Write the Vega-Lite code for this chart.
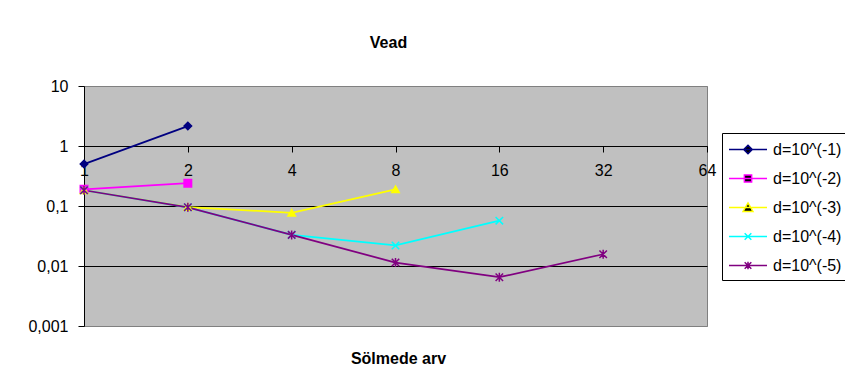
{
  "$schema": "https://vega.github.io/schema/vega-lite/v6.json",
  "width": 623,
  "height": 240,
  "autosize": {"type": "none"},
  "padding": {"left": 84, "top": 86, "right": 138, "bottom": 59},
  "background": "white",
  "title": {
    "text": "Vead",
    "frame": "group",
    "anchor": "middle",
    "offset": 14,
    "baseline": "alphabetic",
    "dx": -7,
    "font": "Liberation Sans",
    "fontSize": 16,
    "fontWeight": "bold",
    "color": "black"
  },
  "config": {
    "font": "Liberation Sans",
    "view": {"fill": "#C0C0C0", "stroke": "#808080", "strokeWidth": 1},
    "legend": {
      "orient": "none",
      "legendX": 638,
      "legendY": 47,
      "title": null,
      "strokeColor": "black",
      "fillColor": "white",
      "padding": 6,
      "rowPadding": 10,
      "labelFont": "Liberation Sans",
      "labelFontSize": 16,
      "labelColor": "black",
      "labelOffset": 24,
      "labelLimit": 300,
      "symbolSize": 361,
      "symbolStrokeWidth": 1.5
    }
  },
  "data": {
    "values": [
      {"s": "d=10^(-1)", "n": 1, "v": 0.5},
      {"s": "d=10^(-1)", "n": 2, "v": 2.15},
      {"s": "d=10^(-2)", "n": 1, "v": 0.19},
      {"s": "d=10^(-2)", "n": 2, "v": 0.24},
      {"s": "d=10^(-3)", "n": 1, "v": 0.183},
      {"s": "d=10^(-3)", "n": 2, "v": 0.096},
      {"s": "d=10^(-3)", "n": 4, "v": 0.077},
      {"s": "d=10^(-3)", "n": 8, "v": 0.19},
      {"s": "d=10^(-4)", "n": 1, "v": 0.183},
      {"s": "d=10^(-4)", "n": 2, "v": 0.095},
      {"s": "d=10^(-4)", "n": 4, "v": 0.033},
      {"s": "d=10^(-4)", "n": 8, "v": 0.022},
      {"s": "d=10^(-4)", "n": 16, "v": 0.057},
      {"s": "d=10^(-5)", "n": 1, "v": 0.183},
      {"s": "d=10^(-5)", "n": 2, "v": 0.095},
      {"s": "d=10^(-5)", "n": 4, "v": 0.033},
      {"s": "d=10^(-5)", "n": 8, "v": 0.0114},
      {"s": "d=10^(-5)", "n": 16, "v": 0.0065},
      {"s": "d=10^(-5)", "n": 32, "v": 0.0157}
    ]
  },
  "encoding": {
    "x": {
      "field": "n",
      "type": "quantitative",
      "scale": {"type": "log", "base": 2, "domain": [1, 64], "nice": false},
      "axis": {
        "orient": "bottom",
        "offset": -180,
        "values": [1, 2, 4, 8, 16, 32, 64],
        "labelExpr": "toString(datum.value)",
        "grid": false,
        "domainColor": "black",
        "tickColor": "black",
        "tickSize": 6,
        "labelFont": "Liberation Sans",
        "labelFontSize": 16,
        "labelColor": "black",
        "labelPadding": 10,
        "labelFlush": false,
        "labelOverlap": false,
        "labelBound": false,
        "title": "Sölmede arv",
        "titleFont": "Liberation Sans",
        "titleFontSize": 16,
        "titleFontWeight": "bold",
        "titleColor": "black",
        "titleX": 314,
        "titleY": 212,
        "titleAlign": "center",
        "titleBaseline": "middle",
        "titleAnchor": "start"
      }
    },
    "y": {
      "field": "v",
      "type": "quantitative",
      "scale": {"type": "log", "domain": [0.001, 10], "nice": false},
      "axis": {
        "values": [0.001, 0.01, 0.1, 1, 10],
        "labelExpr": "replace(toString(datum.value), '.', ',')",
        "grid": true,
        "gridColor": {"condition": {"test": "datum.value > 0.002 && datum.value < 5", "value": "#000000"}, "value": "#808080"},
        "gridWidth": 1,
        "gridOpacity": 1,
        "domainColor": "black",
        "tickColor": "black",
        "tickSize": 6,
        "labelFont": "Liberation Sans",
        "labelFontSize": 16,
        "labelColor": "black",
        "labelPadding": 10,
        "labelFlush": false,
        "labelOverlap": false,
        "title": null
      }
    }
  },
  "layer": [
    {
      "mark": {"type": "line", "strokeWidth": 1.75},
      "encoding": {
        "color": {
          "field": "s",
          "type": "nominal",
          "scale": {
            "domain": ["d=10^(-1)", "d=10^(-2)", "d=10^(-3)", "d=10^(-4)", "d=10^(-5)"],
            "range": ["#000080", "#FF00FF", "#FFFF00", "#00FFFF", "#800080"]
          },
          "legend": null
        }
      }
    },
    {
      "mark": {"type": "point", "filled": true, "opacity": 1, "strokeWidth": 1.5, "size": 56},
      "encoding": {
        "color": {"field": "s", "type": "nominal", "legend": null},
        "stroke": {
          "field": "s",
          "type": "nominal",
          "scale": {
            "domain": ["d=10^(-1)", "d=10^(-2)", "d=10^(-3)", "d=10^(-4)", "d=10^(-5)"],
            "range": ["#000080", "#FF00FF", "#FFFF00", "#00FFFF", "#800080"]
          },
          "legend": null
        },
        "shape": {
          "field": "s",
          "type": "nominal",
          "scale": {
            "domain": ["d=10^(-1)", "d=10^(-2)", "d=10^(-3)", "d=10^(-4)", "d=10^(-5)"],
            "range": [
              "diamond",
              "square",
              "triangle-up",
              "M-1,-1L1,1M-1,1L1,-1",
              "M-1,-1L1,1M-1,1L1,-1M0,-1.2V1.2"
            ]
          },
          "legend": null
        }
      }
    },
    {
      "transform": [{"filter": "false"}],
      "mark": {"type": "point", "filled": true, "opacity": 1, "strokeWidth": 1.5, "size": 361},
      "encoding": {
        "color": {"field": "s", "type": "nominal"},
        "stroke": {
          "field": "s",
          "type": "nominal",
          "scale": {
            "domain": ["d=10^(-1)", "d=10^(-2)", "d=10^(-3)", "d=10^(-4)", "d=10^(-5)"],
            "range": ["#000080", "#FF00FF", "#FFFF00", "#00FFFF", "#800080"]
          }
        },
        "shape": {
          "field": "s",
          "type": "nominal",
          "scale": {
            "domain": ["d=10^(-1)", "d=10^(-2)", "d=10^(-3)", "d=10^(-4)", "d=10^(-5)"],
            "range": [
              "M-1,0H3M1,-0.45L1.45,0L1,0.45L0.55,0Z",
              "M-1,0H3M0.62,-0.38H1.38V0.38H0.62Z",
              "M-1,0H3M1,-0.48L1.52,0.42L0.48,0.42Z",
              "M-1,0H3M0.65,-0.35L1.35,0.35M0.65,0.35L1.35,-0.35",
              "M-1,0H3M0.65,-0.35L1.35,0.35M0.65,0.35L1.35,-0.35M1,-0.4V0.4"
            ]
          }
        }
      }
    }
  ],
  "resolve": {"scale": {"shape": "independent", "stroke": "independent"}}
}
